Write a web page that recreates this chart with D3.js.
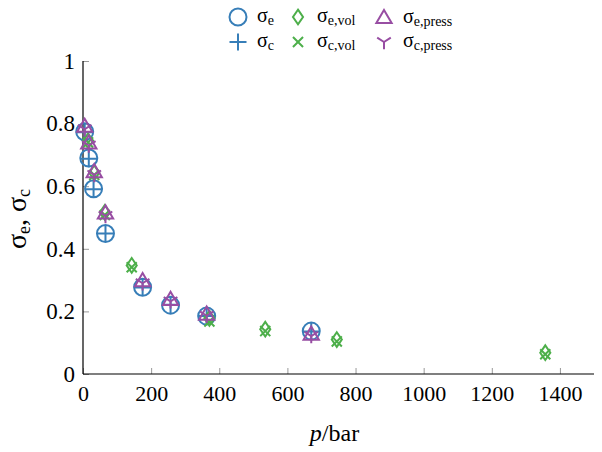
<!DOCTYPE html>
<html>
<head>
<meta charset="utf-8">
<script src="https://cdn.jsdelivr.net/npm/d3@7"></script>
<style>
  body { margin: 0; background: #fff; }
</style>
</head>
<body>
<div id="chart"></div>
<script>
// pressure in bar and fitted sigma values
const pEC = [5, 17, 31, 66, 175, 257, 363, 670];
const sigmaE = [0.774, 0.69, 0.592, 0.449, 0.277, 0.22, 0.185, 0.137];
const sigmaC = [0.772, 0.688, 0.59, 0.449, 0.276, 0.221, 0.185, 0.136];

const pVol = [15, 33, 64, 143, 371, 535, 745, 1357];
const sigmaEVol = [0.745, 0.643, 0.516, 0.347, 0.178, 0.143, 0.11, 0.068];
const sigmaCVol = [0.74, 0.636, 0.508, 0.341, 0.168, 0.137, 0.104, 0.063];

const pPress = [5, 17, 33, 66, 175, 257, 363, 670];
const sigmaEPress = [0.79, 0.737, 0.645, 0.513, 0.297, 0.237, 0.19, 0.126];
const sigmaCPress = [0.782, 0.73, 0.636, 0.505, 0.29, 0.232, 0.186, 0.121];

const xTicks = [0, 200, 400, 600, 800, 1000, 1200, 1400];
const yTicks = [0, 0.2, 0.4, 0.6, 0.8, 1];

const blue = "#377eb8", green = "#4daf4a", purple = "#984ea3";

const width = 602, height = 452;
const margin = {left: 83, right: 8, top: 61, bottom: 78};

const svg = d3.select("#chart").append("svg")
    .attr("width", width).attr("height", height);

const x = d3.scaleLinear().domain([0, 1500]).range([margin.left, width - margin.right]);
const y = d3.scaleLinear().domain([0, 1]).range([height - margin.bottom, margin.top]);

// ticks, drawn inward and grey
let gx = svg.append("g").attr("transform", `translate(0,${y(0)})`)
    .call(d3.axisBottom(x).tickValues(xTicks).tickSize(-6).tickPadding(10).tickFormat(d3.format("d")));
let gy = svg.append("g").attr("transform", `translate(${x(0)},0)`)
    .call(d3.axisLeft(y).tickValues(yTicks).tickSize(-6).tickPadding(8).tickFormat(d => d == 0 || d == 1 ? d : d.toFixed(1)));
[gx, gy].forEach(g => {
    g.attr("font-size", 22);
    g.select(".domain").remove();
    g.selectAll(".tick line").attr("stroke", "#999").attr("stroke-width", 1);
    g.selectAll(".tick text").attr("fill", "#000");
});
gx.selectAll(".tick text").attr("dy", "0.75em");
gy.selectAll(".tick text").attr("font-size", 23);

// axis lines (left + bottom)
svg.append("line").attr("x1", x(0)).attr("x2", x(0)).attr("y1", y(1)).attr("y2", y(0))
    .attr("stroke", "#000").attr("stroke-width", 1.2);
svg.append("line").attr("x1", x(0)).attr("x2", x(1500)).attr("y1", y(0)).attr("y2", y(0))
    .attr("stroke", "#000").attr("stroke-width", 1.2);

// marker paths
function markerPath(type, s) {
    switch (type) {
        case "circle": return d3.arc()({innerRadius: 0, outerRadius: s, startAngle: 0, endAngle: 2 * Math.PI});
        case "plus": return `M${-s},0H${s}M0,${-s}V${s}`;
        case "diamond": return `M0,${-s * 1.05}L${s * 0.72},0L0,${s * 1.05}L${-s * 0.72},0Z`;
        case "cross": { let a = s * 0.72; return `M${-a},${-a}L${a},${a}M${-a},${a}L${a},${-a}`; }
        case "triangle": return `M0,${-s * 0.95}L${s * 0.9},${s * 0.6}L${-s * 0.9},${s * 0.6}Z`;
        case "tri_down": return `M0,0L0,${s * 0.9}M0,0L${-s * 0.85},${-s * 0.55}M0,0L${s * 0.85},${-s * 0.55}`;
    }
}

const series = [
    {px: pEC, py: sigmaE, color: blue, type: "circle", size: 8.5},
    {px: pEC, py: sigmaC, color: blue, type: "plus", size: 8.5},
    {px: pVol, py: sigmaEVol, color: green, type: "diamond", size: 7},
    {px: pVol, py: sigmaCVol, color: green, type: "cross", size: 7},
    {px: pPress, py: sigmaEPress, color: purple, type: "triangle", size: 8.5},
    {px: pPress, py: sigmaCPress, color: purple, type: "tri_down", size: 8}
];

series.forEach(s => {
    svg.append("g").selectAll("path").data(s.px.map((p, i) => [p, s.py[i]]))
        .enter().append("path")
        .attr("d", markerPath(s.type, s.size))
        .attr("transform", d => `translate(${x(d[0])},${y(d[1])})`)
        .attr("fill", "none").attr("stroke", s.color).attr("stroke-width", 2);
});

// legend
const legendItems = [
    {type: "circle", color: blue, size: 8.5, sub: "e", lx: 238, ly: 17},
    {type: "plus", color: blue, size: 8.5, sub: "c", lx: 238, ly: 42},
    {type: "diamond", color: green, size: 7, sub: "e,vol", lx: 298, ly: 17},
    {type: "cross", color: green, size: 7, sub: "c,vol", lx: 298, ly: 42},
    {type: "triangle", color: purple, size: 8.5, sub: "e,press", lx: 384, ly: 18},
    {type: "tri_down", color: purple, size: 8, sub: "c,press", lx: 384, ly: 42}
];
legendItems.forEach(l => {
    svg.append("path").attr("d", markerPath(l.type, l.size))
        .attr("transform", `translate(${l.lx},${l.ly})`)
        .attr("fill", "none").attr("stroke", l.color).attr("stroke-width", 2);
    let t = svg.append("text").attr("x", l.lx + 19).attr("y", l.ly + 5).attr("font-size", 20);
    t.append("tspan").text("σ");
    t.append("tspan").attr("font-size", 14).attr("dy", 3).text(l.sub);
});

// axis titles
let xl = svg.append("text").attr("x", (x(0) + x(1500)) / 2 - 4).attr("y", 441)
    .attr("text-anchor", "middle").attr("font-size", 24);
xl.append("tspan").attr("font-style", "italic").text("p");
xl.append("tspan").text("/bar");

let yl = svg.append("text").attr("transform", "translate(26,219) rotate(-90)")
    .attr("text-anchor", "middle").attr("font-size", 28);
yl.append("tspan").text("σ");
yl.append("tspan").attr("font-size", 18).attr("dy", 4).text("e");
yl.append("tspan").attr("dy", -4).text(", σ");
yl.append("tspan").attr("font-size", 18).attr("dy", 4).text("c");

// every text in Times-like serif
svg.selectAll("text").style("font-family", '"Liberation Serif"');
</script>
</body>
</html>
